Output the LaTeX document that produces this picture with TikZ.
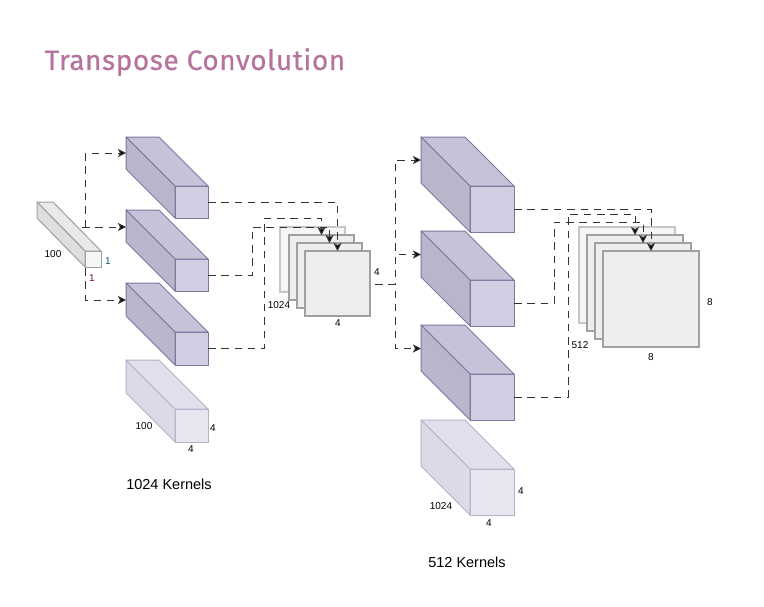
\documentclass[tikz,border=0pt]{standalone}
\usepackage{fontspec}
\setmainfont{Liberation Sans}
\newfontfamily\titlefont[LetterSpace=2,FakeBold=0.5]{Fira Sans}
\usetikzlibrary{arrows.meta,calc}
\definecolor{strokeD}{HTML}{7D78A0}
\definecolor{topD}{HTML}{C6C3D8}
\definecolor{leftD}{HTML}{B9B6CC}
\definecolor{frontD}{HTML}{D0CEE2}
\definecolor{strokeL}{HTML}{B5B2CC}
\definecolor{topL}{HTML}{E1DFEB}
\definecolor{leftL}{HTML}{DCDAE6}
\definecolor{frontL}{HTML}{E7E6F0}
\definecolor{strokeG}{HTML}{A0A0A0}
\definecolor{topG}{HTML}{E9E9E9}
\definecolor{leftG}{HTML}{DEDEDE}
\definecolor{frontG}{HTML}{F5F5F5}
\definecolor{sheetfill}{HTML}{EEEEEE}
\tikzset{
  x=1pt,y=-1pt,
  facebox/.style={draw,line width=1pt,inner sep=0pt,outer sep=0pt,anchor=north west},
  sheet/.style={draw=#1,line width=1.6pt,inner sep=0pt,outer sep=0pt,anchor=north west},
  link/.style={line width=1pt,dash pattern=on 7.5pt off 5.8pt,draw=black!80},
  tiplink/.style={link,-{Stealth[length=8pt,width=8pt,inset=2pt,fill=black]}},
  small/.style={font=\fontsize{10}{12}\selectfont,inner sep=0pt,text=black},
  caption/.style={font=\fontsize{14.5}{17}\selectfont,inner sep=0pt,text=black},
}
\newcommand{\cub}[8]{% colour-suffix,name,x,y,w,h,dx,dy
  \node[facebox,draw=stroke#1,fill=front#1,minimum width=#5pt,minimum height=#6pt] (#2) at (#3,#4) {};
  \filldraw[draw=stroke#1,fill=top#1,line width=1pt,line join=round] (#2.north west) -- ++(-#7,-#8) -- ++(#5,0) -- (#2.north east) -- cycle;
  \filldraw[draw=stroke#1,fill=left#1,line width=1pt,line join=round] (#2.north west) -- ++(-#7,-#8) -- ++(0,#6) -- (#2.south west) -- cycle;
}
\begin{document}
\begin{tikzpicture}
\useasboundingbox (0,0) rectangle (764,606);
\fill[white] (0,0) rectangle (764,606);
\node[font=\titlefont\fontsize{28}{34}\selectfont,text={rgb,255:red,181;green,115;blue,157},inner sep=0pt] (title) at (195,62) {Transpose Convolution};

\cub{G}{inp}{85}{251}{16}{16}{48}{49}
\cub{D}{a1}{175}{186}{33}{32}{49}{49}
\cub{D}{a2}{175}{259}{33}{32}{49}{49}
\cub{D}{a3}{175}{332}{33}{33}{49}{49}
\cub{L}{a4}{175}{409}{33}{33}{49}{49}
\cub{D}{b1}{470}{186}{44}{46}{49}{49}
\cub{D}{b2}{470}{280}{44}{46}{49}{49}
\cub{D}{b3}{470}{374}{44}{46}{49}{49}
\cub{L}{b4}{470}{469}{44}{46}{49}{49}

\node[sheet=strokeG!60,fill=frontG,minimum size=65pt] (s1) at (280,227) {};
\node[sheet=strokeG,minimum size=65pt,fill=sheetfill] (s2) at (289,235) {};
\node[sheet=strokeG,minimum size=65pt,fill=sheetfill] (s3) at (297,243) {};
\node[sheet=strokeG,minimum size=65pt,fill=sheetfill] (s4) at (305,251) {};
\node[sheet=strokeG!60,fill=frontG,minimum size=96pt] (t1) at (579,227) {};
\node[sheet=strokeG,minimum size=96pt,fill=sheetfill] (t2) at (587,235) {};
\node[sheet=strokeG,minimum size=96pt,fill=sheetfill] (t3) at (595,243) {};
\node[sheet=strokeG,minimum size=96pt,fill=sheetfill] (t4) at (603,251) {};

% free ends and bends
\coordinate (inA) at (82,227);
\coordinate (inB) at (85.7,227);
\coordinate (inC) at (85.7,268);
\coordinate (a1in) at (126,153);
\coordinate (a2in) at (126,227);
\coordinate (a3in) at (126,300);
\coordinate (bA) at (252,227);
\coordinate (bB) at (264,218);
\coordinate (outS) at (375,284);
\coordinate (outB) at (395,284);
\coordinate (b1in) at (421,160);
\coordinate (b2in) at (421,254.5);
\coordinate (b3in) at (421,348.5);
\coordinate (cA) at (554,222);
\coordinate (cB) at (568,214);

\draw[tiplink] (inB) |- (a1in);
\draw[tiplink] (inA) -- (a2in);
\draw[tiplink] (inC) |- (a3in);

\draw[tiplink] (a1.east) -| (s4.north);
\draw[tiplink] (a2.east) -| (bA) -| (s3.north);
\draw[tiplink] (a3.east) -| (bB) -| (s2.north);

\draw[tiplink] (outS) -- (outB) |- (b1in);
\draw[tiplink] (outS) -- (outB) |- (b2in);
\draw[tiplink] (outS) -- (outB) |- (b3in);

\draw[tiplink] (b1.east) -| (t4.north);
\draw[tiplink] (b2.east) -| (cA) -| (t3.north);
\draw[tiplink] (b3.east) -| (cB) -| (t2.north);

\node[small] (l1) at (53,254) {100};
\node[small,text={rgb,255:red,10;green,90;blue,105}] (l2) at (108,261) {1};
\node[small,text={rgb,255:red,125;green,15;blue,30}] (l3) at (92,278) {1};
\node[small] (l4) at (279,305) {1024};
\node[small] (l5) at (377,272) {4};
\node[small] (l6) at (338,323) {4};
\node[small] (l7) at (710,302) {8};
\node[small] (l8) at (651,357) {8};
\node[small] (l9) at (580,345) {512};
\node[small] (l10) at (144,426) {100};
\node[small] (l11) at (213,428) {4};
\node[small] (l12) at (191,449) {4};
\node[small] (l13) at (521,491) {4};
\node[small] (l14) at (489,523) {4};
\node[small] (l15) at (441,506) {1024};
\node[caption] (k1) at (169,484) {1024 Kernels};
\node[caption] (k2) at (467,562) {512 Kernels};
\end{tikzpicture}
\end{document}
